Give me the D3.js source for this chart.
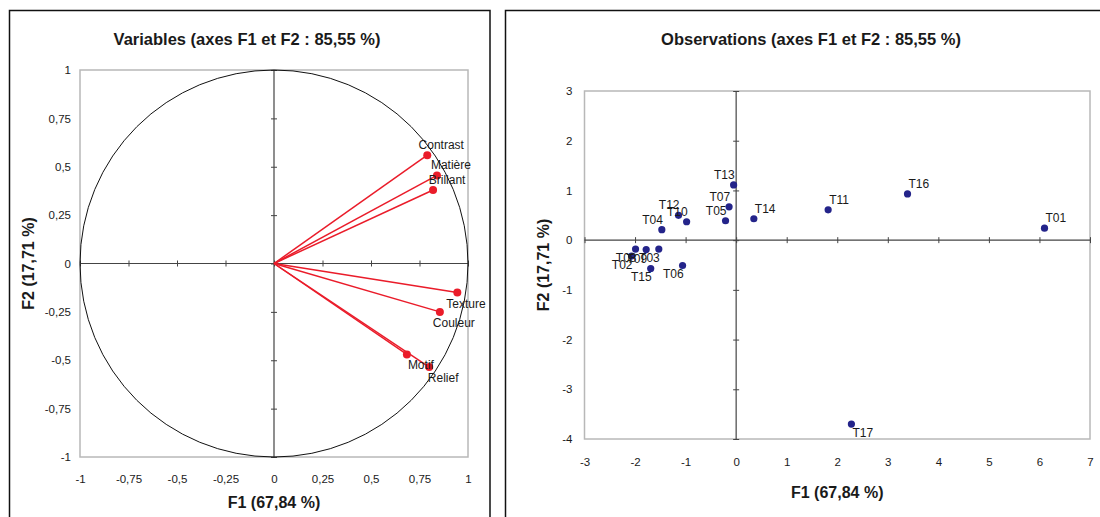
<!DOCTYPE html>
<html><head><meta charset="utf-8">
<script src="https://cdn.jsdelivr.net/npm/d3@7"></script>
<style>body{margin:0;background:#fff} svg{display:block;font-family:"Liberation Sans",Arial,sans-serif}</style>
</head><body><svg id="c" width="1100" height="517"></svg>
<script>
// ---- Data ----
const varNames = ["Contrast","Matière","Brillant","Texture","Couleur","Motif","Relief"];
const varF1 = [0.79, 0.84, 0.82, 0.945, 0.855, 0.685, 0.80];
const varF2 = [0.56, 0.455, 0.38, -0.15, -0.25, -0.47, -0.535];

const obsNames = ["T01","T02","T03","T04","T05","T06","T07","T08","T09","T10","T11","T12","T13","T14","T15","T16","T17"];
const obsF1 = [6.10, -2.07, -1.53, -1.47, -0.21, -1.06, -0.14, -1.99, -1.78, -0.98, 1.82, -1.14, -0.05, 0.35, -1.69, 3.39, 2.28];
const obsF2 = [0.24, -0.32, -0.18, 0.21, 0.39, -0.51, 0.67, -0.18, -0.19, 0.37, 0.61, 0.50, 1.11, 0.43, -0.57, 0.93, -3.70];
const obsLabelPos = ["tr","bl","bl","tl","tl","bl","tl","bl","bl","tl","tr","tl","tl","tr","bl","tr","br"];

const varTicks = [-1,-0.75,-0.5,-0.25,0,0.25,0.5,0.75,1];
const obsXTicks = [-3,-2,-1,0,1,2,3,4,5,6,7];
const obsYTicks = [-4,-3,-2,-1,0,1,2,3];

const titleVar = "Variables (axes F1 et F2 : 85,55 %)";
const titleObs = "Observations (axes F1 et F2 : 85,55 %)";
const xTitle = "F1 (67,84 %)";
const yTitle = "F2 (17,71 %)";

// ---- Setup ----
const locale = d3.formatLocale({decimal:",", thousands:" ", grouping:[3], currency:["","€"], minus:"-"});
const fmt = locale.format("~g");
const svg = d3.select("#c");
const txt = "#1a1a1a";

// outer frames
svg.append("path").attr("d","M9.5,530V10.5H490V530").attr("fill","none").attr("stroke","#111").attr("stroke-width",1.5);
svg.append("path").attr("d","M505.5,530V10.5H1120").attr("fill","none").attr("stroke","#111").attr("stroke-width",1.5);

function panel(o){
  const g = svg.append("g");
  const x = o.x, y = o.y;
  const [x0,x1] = x.range(), [y0,y1] = y.range();
  g.append("rect").attr("x",x0).attr("y",y1).attr("width",x1-x0).attr("height",y0-y1)
    .attr("fill","none").attr("stroke","#b8b8b8").attr("stroke-width",1.5);
  const ax = g.append("g").attr("transform",`translate(0,${y0})`)
    .call(d3.axisBottom(x).tickValues(o.xTicks).tickFormat(fmt).tickSize(0).tickPadding(o.xPad));
  ax.select(".domain").remove();
  ax.attr("font-size",11.5).attr("font-family","Liberation Sans, Arial, sans-serif");
  ax.selectAll("text").attr("fill",txt);
  const ay = g.append("g").attr("transform",`translate(${x0},0)`)
    .call(d3.axisLeft(y).tickValues(o.yTicks).tickFormat(fmt).tickSize(0).tickPadding(o.yPad));
  ay.select(".domain").remove();
  ay.attr("font-size",11.5).attr("font-family","Liberation Sans, Arial, sans-serif");
  ay.selectAll("text").attr("fill",txt);
  const zx = g.append("g").attr("transform",`translate(0,${y(0)-3})`)
    .call(d3.axisBottom(x).tickValues(o.xTicks).tickFormat("").tickSize(6).tickSizeOuter(0));
  zx.select(".domain").remove();
  zx.selectAll("line").attr("stroke","#444");
  g.append("line").attr("x1",x0).attr("x2",x1).attr("y1",y(0)).attr("y2",y(0)).attr("stroke","#444").attr("stroke-width",1.2);
  const zy = g.append("g").attr("transform",`translate(${x(0)+3},0)`)
    .call(d3.axisLeft(y).tickValues(o.yTicks).tickFormat("").tickSize(6).tickSizeOuter(0));
  zy.select(".domain").remove();
  zy.selectAll("line").attr("stroke","#444");
  g.append("line").attr("x1",x(0)).attr("x2",x(0)).attr("y1",y0).attr("y2",y1).attr("stroke","#444").attr("stroke-width",1.2);
  g.append("text").attr("x",o.titleX).attr("y",45).attr("text-anchor","middle")
    .attr("font-size",16.5).attr("font-weight","bold").attr("fill",txt).text(o.title);
  g.append("text").attr("x",(x0+x1)/2).attr("y",o.xTitleY).attr("text-anchor","middle")
    .attr("font-size",16).attr("font-weight","bold").attr("fill",txt).text(xTitle);
  g.append("text").attr("transform",`translate(${o.yTitleX},${(y0+y1)/2}) rotate(-90)`).attr("text-anchor","middle")
    .attr("font-size",16).attr("font-weight","bold").attr("fill",txt).text(yTitle);
  return g;
}

// ---- Left: variables ----
const xv = d3.scaleLinear().domain([-1,1]).range([80,468]);
const yv = d3.scaleLinear().domain([-1,1]).range([457,70]);
const gl = panel({x:xv, y:yv, xTicks:varTicks, yTicks:varTicks, xPad:18, yPad:9, title:titleVar, titleX:247, xTitleY:508, yTitleX:34});
gl.append("ellipse").attr("cx",xv(0)).attr("cy",yv(0)).attr("rx",xv(1)-xv(0)).attr("ry",yv(0)-yv(1))
  .attr("fill","none").attr("stroke","#111").attr("stroke-width",1);
const vars = varNames.map((n,i)=>({n, f1:varF1[i], f2:varF2[i]}));
gl.selectAll(".vl").data(vars).join("line")
  .attr("x1",xv(0)).attr("y1",yv(0)).attr("x2",d=>xv(d.f1)).attr("y2",d=>yv(d.f2))
  .attr("stroke","#ea1c2a").attr("stroke-width",1.5);
gl.selectAll(".vd").data(vars).join("circle")
  .attr("cx",d=>xv(d.f1)).attr("cy",d=>yv(d.f2)).attr("r",4).attr("fill","#ea1c2a");
gl.selectAll(".vt").data(vars).join("text")
  .attr("x",d=>Math.min(xv(d.f1)+14, 466)).attr("y",d=>yv(d.f2)+(d.f2>0?-6:15))
  .attr("text-anchor","middle").attr("font-size",12).attr("fill",txt).text(d=>d.n);

// ---- Right: observations ----
const xo = d3.scaleLinear().domain([-3,7]).range([584.5,1090]);
const yo = d3.scaleLinear().domain([-4,3]).range([439,91]);
const gr = panel({x:xo, y:yo, xTicks:obsXTicks, yTicks:obsYTicks, xPad:19, yPad:12, title:titleObs, titleX:811, xTitleY:498, yTitleX:549});
const obs = obsNames.map((n,i)=>({n, f1:obsF1[i], f2:obsF2[i], p:obsLabelPos[i]}));
gr.selectAll(".od").data(obs).join("circle")
  .attr("cx",d=>xo(d.f1)).attr("cy",d=>yo(d.f2)).attr("r",3.6).attr("fill","#24248a");
gr.selectAll(".ot").data(obs).join("text")
  .attr("x",d=>xo(d.f1)+1)
  .attr("y",d=>yo(d.f2)+(d.p[0]==="t"?-6:13))
  .attr("text-anchor",d=>d.p[1]==="r"?"start":"end")
  .attr("font-size",12).attr("fill",txt).text(d=>d.n);
</script></body></html>
